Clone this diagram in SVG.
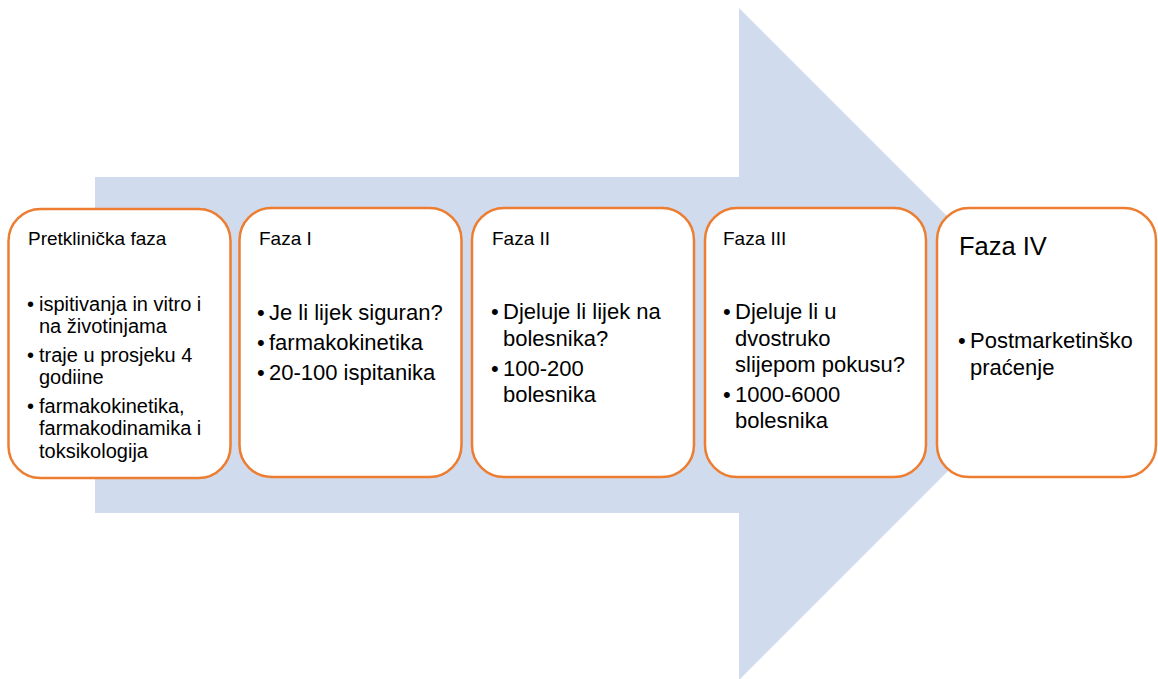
<svg xmlns="http://www.w3.org/2000/svg" width="1158" height="679" viewBox="0 0 1158 679">
<style>
.box{fill:#ffffff;stroke:#ED7D31;stroke-width:2.5}
text{font-family:"Liberation Sans",Arial,sans-serif;fill:#000000}
.t{font-size:19px}
.b1{font-size:20px}
.b{font-size:22px}
.big{font-size:25.5px}
</style>
<rect width="1158" height="679" fill="#ffffff"/>
<g id="arrow">
<path d="M95,177 H739 V8 L1075,344 L739,680 V513 H95 Z" fill="#D0DBEE"/>
</g>
<g id="connectors"></g>
<g id="node-pretklinicka">
<rect class="box" x="8.5" y="209" width="222" height="269" rx="32"/>
<text class="t" x="28" y="245">Pretklinička faza</text>
<text class="b1" x="27" y="311">•</text><text class="b1" x="39" y="311">ispitivanja in vitro i</text>
<text class="b1" x="39" y="333">na životinjama</text>
<text class="b1" x="27" y="362">•</text><text class="b1" x="39" y="362">traje u prosjeku 4</text>
<text class="b1" x="39" y="384">godiine</text>
<text class="b1" x="27" y="413">•</text><text class="b1" x="39" y="413">farmakokinetika,</text>
<text class="b1" x="39" y="435">farmakodinamika i</text>
<text class="b1" x="39" y="458">toksikologija</text>
</g>
<g id="node-faza1">
<rect class="box" x="239.5" y="208" width="222" height="269" rx="32"/>
<text class="t" x="259" y="245">Faza I</text>
<text class="b" x="257" y="320">•</text><text class="b" x="269" y="320">Je li lijek siguran?</text>
<text class="b" x="257" y="350">•</text><text class="b" x="269" y="350">farmakokinetika</text>
<text class="b" x="257" y="380">•</text><text class="b" x="269" y="380">20-100 ispitanika</text>
</g>
<g id="node-faza2">
<rect class="box" x="472" y="208" width="222" height="269" rx="32"/>
<text class="t" x="492" y="245">Faza II</text>
<text class="b" x="491" y="319">•</text><text class="b" x="503" y="319">Djeluje li lijek na</text>
<text class="b" x="503" y="346">bolesnika?</text>
<text class="b" x="491" y="376">•</text><text class="b" x="503" y="376">100-200</text>
<text class="b" x="503" y="402">bolesnika</text>
</g>
<g id="node-faza3">
<rect class="box" x="705" y="208" width="221" height="269" rx="32"/>
<text class="t" x="723" y="245">Faza III</text>
<text class="b" x="723" y="319">•</text><text class="b" x="735" y="319">Djeluje li u</text>
<text class="b" x="735" y="346">dvostruko</text>
<text class="b" x="735" y="372">slijepom pokusu?</text>
<text class="b" x="723" y="402">•</text><text class="b" x="735" y="402">1000-6000</text>
<text class="b" x="735" y="428">bolesnika</text>
</g>
<g id="node-faza4">
<rect class="box" x="937" y="208" width="219" height="269" rx="32"/>
<text class="big" x="959" y="255">Faza IV</text>
<text class="b" x="958" y="348">•</text><text class="b" x="970" y="348">Postmarketinško</text>
<text class="b" x="970" y="375">praćenje</text>
</g>
</svg>
